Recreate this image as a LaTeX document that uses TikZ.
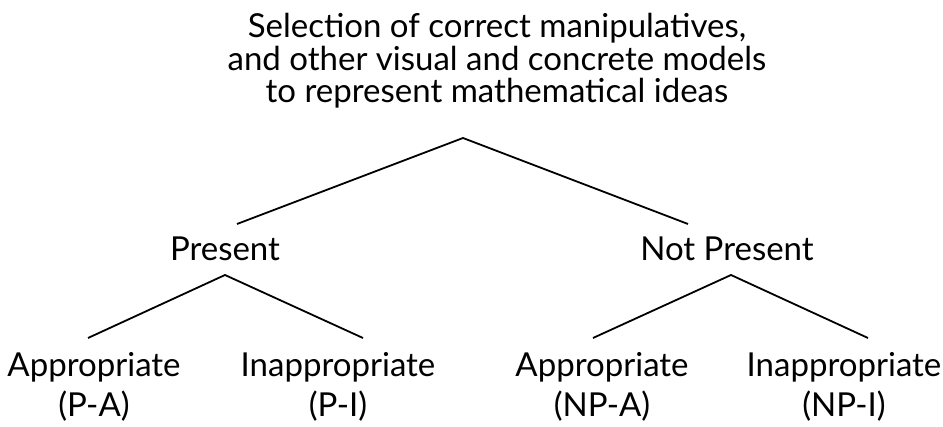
\documentclass[tikz,border=0pt]{standalone}
\usepackage{fontspec}
\setmainfont{Lato}
\begin{document}
\begin{tikzpicture}[x=1pt,y=1pt,
  lbl/.style={inner sep=0pt, anchor=base, align=center, font=\fontsize{33}{40}\selectfont},
  rootlbl/.style={lbl, font=\fontsize{33}{32.5}\selectfont},
  branch/.style={line width=1.8pt, line cap=butt, line join=miter}]
\useasboundingbox (0,0) rectangle (943,-427);
% labels (base anchor = baseline of the last line)
\node[rootlbl] (root) at (497,-103) {Selection of correct manipulatives,\\and other visual and concrete models\\to represent mathematical ideas};
\node[lbl] (p) at (225,-261) {Present};
\node[lbl] (np) at (727,-261) {Not Present};
\node[lbl] (pa) at (94,-417) {Appropriate\\(P-A)};
\node[lbl] (pi) at (338,-417) {Inappropriate\\(P-I)};
\node[lbl] (npa) at (602,-417) {Appropriate\\(NP-A)};
\node[lbl] (npi) at (844,-417) {Inappropriate\\(NP-I)};
% branch points
\coordinate (rootTip) at (463,-138);
\coordinate (pTop) at (237,-224);
\coordinate (npTop) at (688,-224);
\coordinate (pTip) at (225,-275);
\coordinate (paTop) at (88,-338);
\coordinate (piTop) at (363,-338);
\coordinate (npTip) at (731,-275);
\coordinate (npaTop) at (593,-338);
\coordinate (npiTop) at (868,-338);
\draw[branch] (pTop) -- (rootTip) -- (npTop);
\draw[branch] (paTop) -- (pTip) -- (piTop);
\draw[branch] (npaTop) -- (npTip) -- (npiTop);
\end{tikzpicture}
\end{document}
